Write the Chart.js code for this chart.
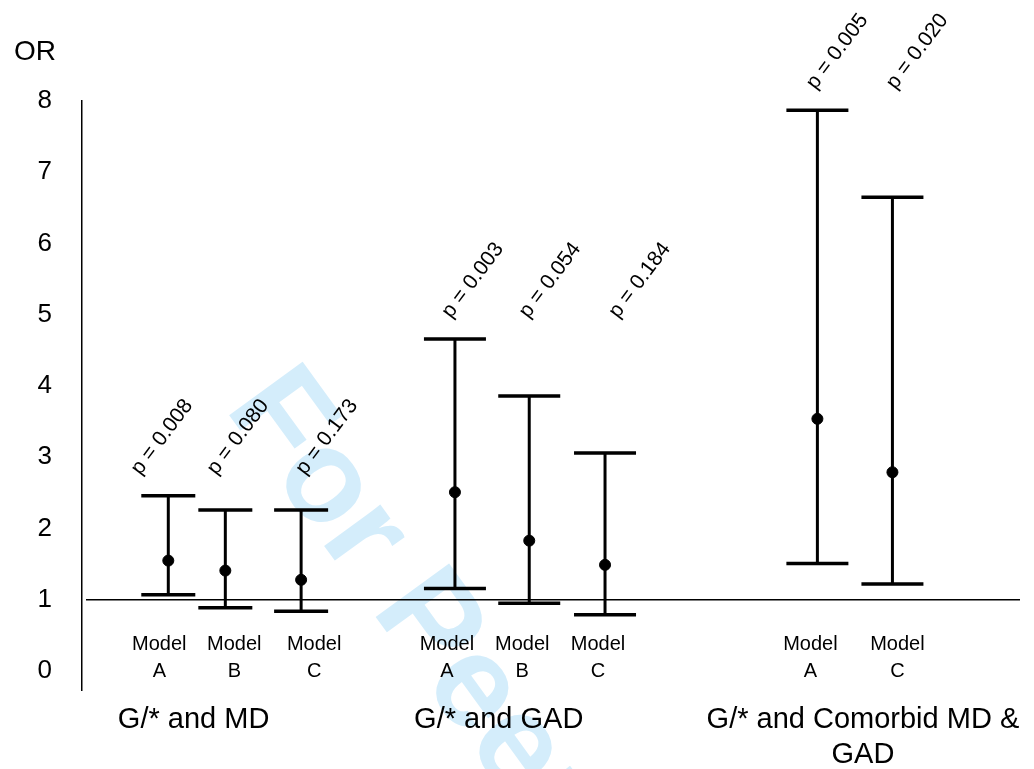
<!DOCTYPE html>
<html>
<head>
<meta charset="utf-8">
<script src="https://cdn.jsdelivr.net/npm/chart.js@4.4.1/dist/chart.umd.min.js"></script>
<style>
  html, body { margin: 0; padding: 0; background: #fff; }
  #wrap { width: 1034px; height: 769px; }
</style>
</head>
<body>
<div id="wrap"><canvas id="orChart" width="1034" height="769"></canvas></div>
<script>
// odds ratios with 95% CI, one entry per model
const groupTitles = [["G/* and MD"], ["G/* and GAD"], ["G/* and Comorbid MD &", "GAD"]];
const modelNames = ["A", "B", "C", "A", "B", "C", "A", "C"];
const modelGroup = [0, 0, 0, 1, 1, 1, 2, 2];
const modelSlot = [1.15, 1.91, 2.92, 4.97, 5.96, 6.97, 9.8, 10.8];
const oddsRatio = [1.55, 1.41, 1.28, 2.51, 1.83, 1.49, 3.54, 2.79];
const ciLow = [1.07, 0.89, 0.84, 1.16, 0.95, 0.79, 1.51, 1.22];
const ciHigh = [2.46, 2.26, 2.26, 4.66, 3.86, 3.06, 7.87, 6.65];
const pValues = ["0.008", "0.080", "0.173", "0.003", "0.054", "0.184", "0.005", "0.020"];
const yTicks = [0, 1, 2, 3, 4, 5, 6, 7, 8];

const FONT = "'Liberation Sans', Arial, Helvetica, sans-serif";

// small hand nudges for the text around each bar
const pShiftX = [-28, -9, 4, -4, -1, 13, -2, 3];
const modelShiftX = [-9, 9, 13, -8, -7, -7, -7, 5];
const titleShiftX = [-38, -31, 8];

const decor = {
  id: "decor",
  beforeDraw(chart) {
    const ctx = chart.ctx;
    ctx.save();
    ctx.fillStyle = "#fff";
    ctx.fillRect(0, 0, chart.width, chart.height);
    // watermark
    ctx.translate(224, 408);
    ctx.rotate(54 * Math.PI / 180);
    ctx.font = "bold 132px " + FONT;
    ctx.fillStyle = "#d4edfb";
    ctx.textBaseline = "alphabetic";
    ctx.fillText("For Peer Review", 0, 0);
    ctx.restore();
  },
  beforeDatasetsDraw(chart) {
    const ctx = chart.ctx;
    const x = chart.scales.x, y = chart.scales.y;
    ctx.save();
    // OR = 1 reference line
    const y1 = y.getPixelForValue(1);
    ctx.strokeStyle = "#000";
    ctx.lineWidth = 1.5;
    ctx.beginPath();
    ctx.moveTo(chart.chartArea.left + 4, y1);
    ctx.lineTo(chart.chartArea.right, y1);
    ctx.stroke();
    // confidence intervals
    modelSlot.forEach((s, i) => {
      const px = x.getPixelForValue(s);
      const top = y.getPixelForValue(ciHigh[i]);
      const bot = y.getPixelForValue(ciLow[i]);
      const half = modelGroup[i] === 0 ? 27 : 31;
      ctx.lineWidth = 3;
      ctx.beginPath();
      ctx.moveTo(px, top);
      ctx.lineTo(px, bot);
      ctx.stroke();
      ctx.lineWidth = 3.5;
      ctx.beginPath();
      ctx.moveTo(px - half, top);
      ctx.lineTo(px + half, top);
      ctx.moveTo(px - half, bot);
      ctx.lineTo(px + half, bot);
      ctx.stroke();
    });
    ctx.restore();
  },
  afterDraw(chart) {
    const ctx = chart.ctx;
    const x = chart.scales.x, y = chart.scales.y;
    ctx.save();
    ctx.fillStyle = "#000";

    ctx.font = "28px " + FONT;
    ctx.textAlign = "center";
    ctx.textBaseline = "middle";
    ctx.fillText("OR", 35, 52);

    // model labels
    ctx.font = "20px " + FONT;
    ctx.textBaseline = "alphabetic";
    modelSlot.forEach((s, i) => {
      const px = x.getPixelForValue(s) + modelShiftX[i];
      ctx.fillText("Model", px, 650);
      ctx.fillText(modelNames[i], px, 677);
    });

    // group titles
    ctx.font = "29px " + FONT;
    groupTitles.forEach((lines, g) => {
      const slots = modelSlot.filter((_, i) => modelGroup[i] === g);
      const mid = slots.reduce((a, b) => a + b, 0) / slots.length;
      const px = x.getPixelForValue(mid) + titleShiftX[g];
      lines.forEach((t, k) => ctx.fillText(t, px, 728 + k * 35));
    });

    // p-values, rotated above each group's tallest interval
    ctx.font = "21px " + FONT;
    ctx.textAlign = "left";
    modelSlot.forEach((s, i) => {
      const g = modelGroup[i];
      const maxHigh = Math.max(...ciHigh.filter((_, j) => modelGroup[j] === g));
      const px = x.getPixelForValue(s) + pShiftX[i];
      const py = y.getPixelForValue(maxHigh) - 20;
      ctx.save();
      ctx.translate(px, py);
      ctx.rotate(-53 * Math.PI / 180);
      ctx.fillText("p = " + pValues[i], 0, 0);
      ctx.restore();
    });
    ctx.restore();
  }
};

new Chart(document.getElementById("orChart"), {
  type: "scatter",
  data: {
    datasets: [
      {
        label: "OR",
        data: modelSlot.map((s, i) => ({ x: s, y: oddsRatio[i] })),
        backgroundColor: "#000",
        borderColor: "#000",
        pointRadius: 5.5,
        pointHoverRadius: 5.5,
      },
    ],
  },
  options: {
    responsive: false,
    animation: false,
    layout: { padding: { left: 0, top: 101, right: 14, bottom: 79 } },
    plugins: { legend: { display: false }, tooltip: { enabled: false } },
    scales: {
      x: { type: "linear", min: 0, max: 12.5, display: false },
      y: {
        type: "linear",
        min: -0.266,
        max: 8,
        afterBuildTicks: (scale) => { scale.ticks = yTicks.map((v) => ({ value: v })); },
        afterFit: (scale) => { scale.width = 82; },
        grid: { display: false, drawTicks: false },
        border: { display: true, color: "#000", width: 1.5 },
        ticks: { color: "#000", font: { size: 26, family: FONT }, padding: 30 },
      },
    },
  },
  plugins: [decor],
});
</script>
</body>
</html>
